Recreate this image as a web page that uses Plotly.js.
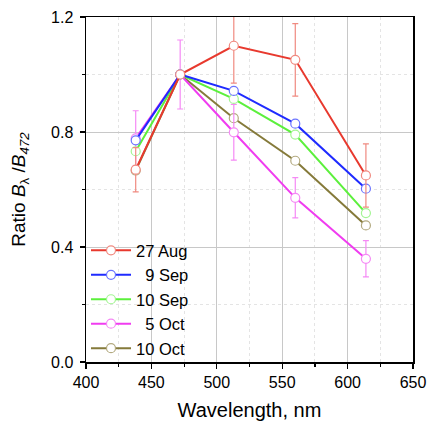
<!DOCTYPE html>
<html>
<head>
<meta charset="utf-8">
<script src="https://cdn.plot.ly/plotly-3.0.1.min.js"></script>
<style>html,body{margin:0;padding:0;background:#fff;}#chart{width:427px;height:422px;}</style>
</head>
<body>
<div id="chart"></div>
<script>
const wavelengths = [438, 472, 513, 560, 614];
const seriesNames = ["27 Aug", "\u00a0\u00a09 Sep", "10 Sep", "\u00a0\u00a05 Oct", "10 Oct"];
const aug27 = [0.669, 1.0, 1.100, 1.051, 0.649];
const sep9 = [0.771, 1.0, 0.943, 0.829, 0.603];
const sep10 = [0.733, 1.0, 0.915, 0.791, 0.518];
const oct5 = [0.778, 1.0, 0.799, 0.571, 0.359];
const oct10 = [0.666, 1.0, 0.848, 0.700, 0.475];
const aug27Err = [0.077, 0, 0.13, 0.126, 0.11];
const oct5Err = [0.096, 0.12, 0.097, 0.07, 0.063];

const lineColors = ["#e8392e", "#1f2bff", "#5cf03c", "#f03cf0", "#857a3a"];
const markColors = ["#f08a80", "#6b74ff", "#a3f593", "#f58af5", "#b3aa80"];
const values = [aug27, sep9, sep10, oct5, oct10];
const errs = [aug27Err, null, null, oct5Err, null];

const traces = [];
for (let i = values.length - 1; i >= 0; i--) {
  const t = {
    x: wavelengths, y: values[i], name: seriesNames[i],
    type: 'scatter', mode: 'lines+markers',
    line: {color: lineColors[i], width: 2},
    marker: {symbol: 'circle', size: 9, color: '#ffffff', line: {color: markColors[i], width: 1.2}}
  };
  if (errs[i]) {
    t.error_y = {type: 'data', array: errs[i], visible: true, color: markColors[i], thickness: 1.2, width: 3};
  }
  traces.push(t);
}

const font = {family: 'Liberation Sans, Arial, sans-serif', color: '#000'};
const layout = {
  width: 427, height: 422,
  margin: {l: 86, r: 14, t: 17, b: 60},
  paper_bgcolor: '#fff', plot_bgcolor: '#fff',
  font: font,
  showlegend: true,
  legend: {x: 0.0, y: -0.012, xanchor: 'left', yanchor: 'bottom', traceorder: 'reversed',
           font: {family: font.family, size: 16.5, color: '#000'}, bgcolor: 'rgba(0,0,0,0)', itemwidth: 40, tracegroupgap: 0},
  xaxis: {
    range: [400, 650], tickvals: [400, 450, 500, 550, 600, 650],
    ticks: 'outside', ticklen: 5, tickwidth: 1.2, tickcolor: '#000',
    showline: true, linecolor: '#000', linewidth: 1.5, mirror: true,
    showgrid: true, gridcolor: '#c8c8c8', gridwidth: 1,
    minor: {dtick: 25, tick0: 425, showgrid: true, gridcolor: '#e4e4e4', griddash: 'dot', ticks: 'outside', ticklen: 3, tickcolor: '#000'},
    zeroline: false,
    tickfont: {family: font.family, size: 16, color: '#000'},
    title: {text: 'Wavelength, nm', font: {family: font.family, size: 20, color: '#000'}, standoff: 13}
  },
  yaxis: {
    range: [0, 1.2], tickvals: [0, 0.4, 0.8, 1.2], ticktext: ['0.0', '0.4', '0.8', '1.2'],
    ticks: 'outside', ticklen: 5, tickwidth: 1.2, tickcolor: '#000',
    showline: true, linecolor: '#000', linewidth: 1.5, mirror: true,
    showgrid: true, gridcolor: '#c8c8c8', gridwidth: 1,
    minor: {tickvals: [0.2, 0.6, 1.0], showgrid: true, gridcolor: '#e4e4e4', griddash: 'dot', ticks: 'outside', ticklen: 3, tickcolor: '#000'},
    zeroline: false,
    ticklabelstandoff: 3,
    tickfont: {family: font.family, size: 16, color: '#000'},
    title: {text: 'Ratio <i>B</i><sub>λ</sub> /<i>B</i><sub><i>472</i></sub>', font: {family: font.family, size: 19, color: '#000'}, standoff: 20}
  }
};
Plotly.newPlot('chart', traces, layout, {displayModeBar: false, staticPlot: true});
</script>
</body>
</html>
